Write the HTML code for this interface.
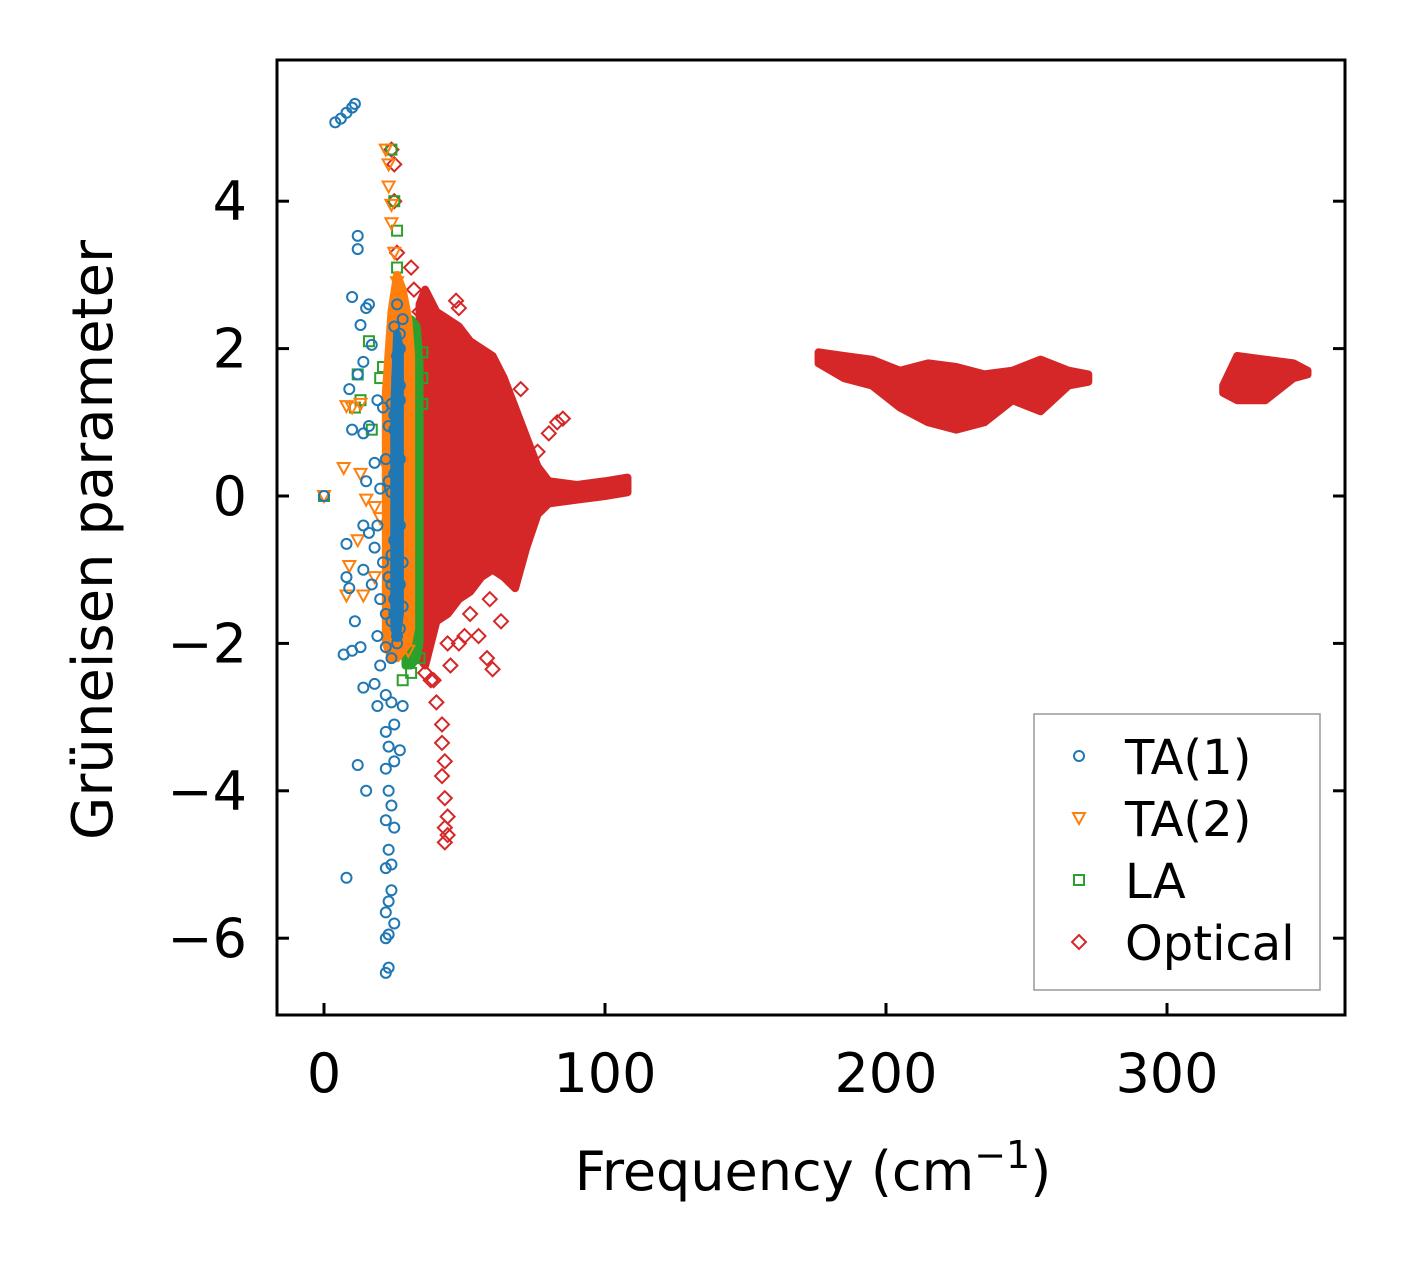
<!DOCTYPE html>
<html><head><meta charset="utf-8"><style>
body{margin:0;background:#fff}
svg text{font-family:"DejaVu Sans","Liberation Sans",sans-serif;fill:#000}
</style></head><body>
<svg id="chart" width="1406" height="1264" viewBox="0 0 1406 1264" xmlns="http://www.w3.org/2000/svg">
<rect width="1406" height="1264" fill="#fff"/>
<g id="plot"></g>
<rect x="277" y="60" width="1068" height="955" fill="none" stroke="#000" stroke-width="3"/>
<g id="axes"></g>
<text x="813" y="1190" font-size="54" text-anchor="middle">Frequency (cm<tspan dy="-22" font-size="38">−1</tspan><tspan dy="22">)</tspan></text>
<text transform="translate(112,540) rotate(-90)" font-size="56" text-anchor="middle">Grüneisen parameter</text>
<g id="legend"></g>
</svg>
<script>
const xTicks=[0,100,200,300];
const yTicks=[4,2,0,-2,-4,-6];
const yTickLabels=["4","2","0","−2","−4","−6"];
// dense-region envelopes [x, lower, upper]
const opticalMainX=[34,36,40,44,48,52,56,60,64,68,72,76,80,90,100,108];
const opticalMainLo=[-2.2,-2.3,-1.7,-1.6,-1.4,-1.3,-1.1,-1.0,-1.1,-1.25,-0.7,-0.25,-0.1,-0.05,0.0,0.05];
const opticalMainHi=[2.6,2.8,2.5,2.4,2.3,2.1,2.0,1.9,1.6,1.2,0.8,0.4,0.2,0.15,0.2,0.25];
const optical2X=[176,185,195,205,215,225,235,245,255,265,272];
const optical2Lo=[1.8,1.6,1.5,1.2,1.0,0.9,1.0,1.3,1.15,1.5,1.55];
const optical2Hi=[1.95,1.9,1.85,1.7,1.8,1.75,1.65,1.7,1.85,1.7,1.65];
const optical3X=[320,325,335,345,350];
const optical3Lo=[1.4,1.3,1.3,1.6,1.65];
const optical3Hi=[1.5,1.9,1.85,1.8,1.7];
const ta2BandX=[22,24,26,28,30,31];
const ta2BandLo=[-2.0,-2.2,-2.2,-2.1,-2.0,-1.8];
const ta2BandHi=[1.4,2.5,3.0,2.8,2.4,1.9];
const laBandX=[29,31,33,34];
const laBandLo=[-2.3,-2.3,-2.2,-2.0];
const laBandHi=[2.0,2.4,2.3,1.8];
const ta1BandX=[25,26,27];
const ta1BandLo=[-1.8,-1.9,-1.6];
const ta1BandHi=[1.2,2.2,2.0];
// scatter points
const ta1X=[4,6,8,10,11,12,12,10,15,16,13,17,14,12,9,10,14,16,19,21,18,22,15,20,23,8,14,16,19,21,18,8,9,14,17,20,22,11,7,10,13,19,22,20,24,14,18,22,19,24,28,25,22,23,27,12,22,25,15,23,24,22,25,23,22,24,8,24,23,22,25,23,22,23,22,26,27,26,27,25,26,25,26,25,26,25,27,26,24,24,23,24,23,24,0,25,27,26,27,25,27,26,27,26,27,25,26,28,24,28,28];
const ta1Y=[5.07,5.12,5.2,5.27,5.32,3.53,3.35,2.7,2.55,2.6,2.32,2.05,1.82,1.65,1.45,0.9,0.85,0.95,1.3,1.2,0.45,0.5,0.2,0.1,0.2,-0.65,-0.4,-0.5,-0.4,-0.9,-0.7,-1.1,-1.25,-1.0,-1.2,-1.4,-1.6,-1.7,-2.15,-2.1,-2.05,-1.9,-2.05,-2.3,-2.2,-2.6,-2.55,-2.7,-2.85,-2.8,-2.85,-3.1,-3.2,-3.4,-3.45,-3.65,-3.7,-3.6,-4.0,-4.0,-4.2,-4.4,-4.5,-4.8,-5.05,-5.0,-5.18,-5.35,-5.5,-5.65,-5.8,-5.95,-6.0,-6.4,-6.47,2.6,2.2,1.9,1.5,1.1,0.7,0.3,-0.2,-0.6,-1.0,-1.4,-1.8,-2.0,-0.8,1.25,0.95,0.05,-1.1,-1.7,0,2.3,2.0,1.6,1.3,0.9,0.5,0.1,-0.4,-0.8,-1.2,-1.6,-1.9,-1.5,-1.2,2.4,-0.9];
const ta2X=[8,10,7,13,15,18,9,12,18,14,8,13,22,23,23,24,24,25,26,22,30,20,0,24,27,29,25,28];
const ta2Y=[1.22,1.2,0.38,0.3,-0.05,-0.15,-0.95,-0.6,-1.1,-1.35,-1.35,1.25,4.7,4.5,4.2,3.95,3.7,3.3,2.9,0.4,-2.1,-0.3,0,-1.5,-1.8,1.0,0.6,-0.5];
const laX=[16,12,11,13,17,20,21,24,25,26,26,27,35,35,35,34,31,28,0,32,33,31];
const laY=[2.1,1.65,1.2,1.3,0.9,1.6,1.75,4.7,4.0,3.6,3.1,2.6,1.95,1.6,1.25,-2.2,-2.4,-2.5,0,1.0,-0.5,-1.5];
const optX=[24,25,25,26,31,32,34,36,40,47,48,70,80,83,85,76,42,42,43,42,43,44,43,44,43,40,39,45,48,52,55,58,60,59,63,46,50,44,38,36];
const optY=[4.7,4.5,4.0,3.3,3.1,2.8,2.5,2.2,1.9,2.65,2.55,1.45,0.85,1.0,1.05,0.6,-3.1,-3.35,-3.6,-3.8,-4.1,-4.35,-4.5,-4.6,-4.7,-2.8,-2.5,-2.3,-2.0,-1.6,-1.9,-2.2,-2.35,-1.4,-1.7,-1.4,-1.9,-2.0,-2.5,-2.4];

const C={b:"#1f77b4",o:"#ff7f0e",g:"#2ca02c",r:"#d62728"};
const sx=v=>324+v*2.81, sy=v=>496-v*73.7;
const NS="http://www.w3.org/2000/svg";
const plot=document.getElementById('plot'), axes=document.getElementById('axes'), leg=document.getElementById('legend');
function mk(tag,attrs,parent){const e=document.createElementNS(NS,tag);for(const k in attrs)e.setAttribute(k,attrs[k]);parent.appendChild(e);return e;}
function band(xs,lo,hi,col,name){
  let d="M"+xs.map((x,i)=>sx(x)+","+sy(hi[i])).join("L")+"L"+xs.slice().reverse().map((x,i)=>sx(x)+","+sy(lo[xs.length-1-i])).join("L")+"Z";
  const p=mk('path',{d:d,fill:col,stroke:col,'stroke-width':8,'stroke-linejoin':'round'},plot);
  
  
}
function marker(kind,x,y,col,parent){
  let e;
  if(kind==='c') e=mk('circle',{cx:x,cy:y,r:5,fill:'none',stroke:col,'stroke-width':2},parent);
  else if(kind==='t') e=mk('path',{d:`M${x-6},${y-5}L${x+6},${y-5}L${x},${y+6}Z`,fill:'none',stroke:col,'stroke-width':2},parent);
  else if(kind==='s') e=mk('rect',{x:x-5,y:y-5,width:10,height:10,fill:'none',stroke:col,'stroke-width':2},parent);
  else e=mk('path',{d:`M${x},${y-7}L${x+7},${y}L${x},${y+7}L${x-7},${y}Z`,fill:'none',stroke:col,'stroke-width':2},parent);
  return e;
}
function series(kind,xs,ys,col,name){
  const g=mk('g',{},plot);
  
  
  xs.forEach((x,i)=>{const m=marker(kind,sx(x),sy(ys[i]),col,g);
    
    });
}
band(opticalMainX,opticalMainLo,opticalMainHi,C.r,'optical-dense-main');
band(optical2X,optical2Lo,optical2Hi,C.r,'optical-dense-200');
band(optical3X,optical3Lo,optical3Hi,C.r,'optical-dense-330');
series('d',optX,optY,C.r,'optical-series');
band(laBandX,laBandLo,laBandHi,C.g,'la-dense');
series('s',laX,laY,C.g,'la-series');
band(ta2BandX,ta2BandLo,ta2BandHi,C.o,'ta2-dense');
series('t',ta2X,ta2Y,C.o,'ta2-series');
band(ta1BandX,ta1BandLo,ta1BandHi,C.b,'ta1-dense');
series('c',ta1X,ta1Y,C.b,'ta1-series');

xTicks.forEach(v=>{const x=sx(v);
  const t=mk('line',{x1:x,x2:x,y1:1015,y2:1003,stroke:'#000','stroke-width':3},axes);
  
  
  const l=mk('text',{x:x,y:1092,'font-size':54,'text-anchor':'middle'},axes);l.textContent=v;
  
  
});
yTicks.forEach((v,i)=>{const y=sy(v);
  const t=mk('line',{x1:277,x2:289,y1:y,y2:y,stroke:'#000','stroke-width':3},axes);
  
  
  const t2=mk('line',{x1:1333,x2:1345,y1:y,y2:y,stroke:'#000','stroke-width':3},axes);
  
  
  const l=mk('text',{x:247,y:y+19,'font-size':54,'text-anchor':'end'},axes);l.textContent=yTickLabels[i];
  
  
});
const lb=mk('rect',{x:1034,y:714,width:286,height:276,fill:'#fff',stroke:'#999','stroke-width':1.5},leg);


const legNames=["TA(1)","TA(2)","LA","Optical"], legKinds=['c','t','s','d'], legCols=[C.b,C.o,C.g,C.r];
legNames.forEach((n,i)=>{const y=756+i*62;
  const m=marker(legKinds[i],1079,y,legCols[i],leg);
  
  
  const t=mk('text',{x:1125,y:y+18,'font-size':48},leg);t.textContent=n;
  
  
});
</script>
</body></html>
